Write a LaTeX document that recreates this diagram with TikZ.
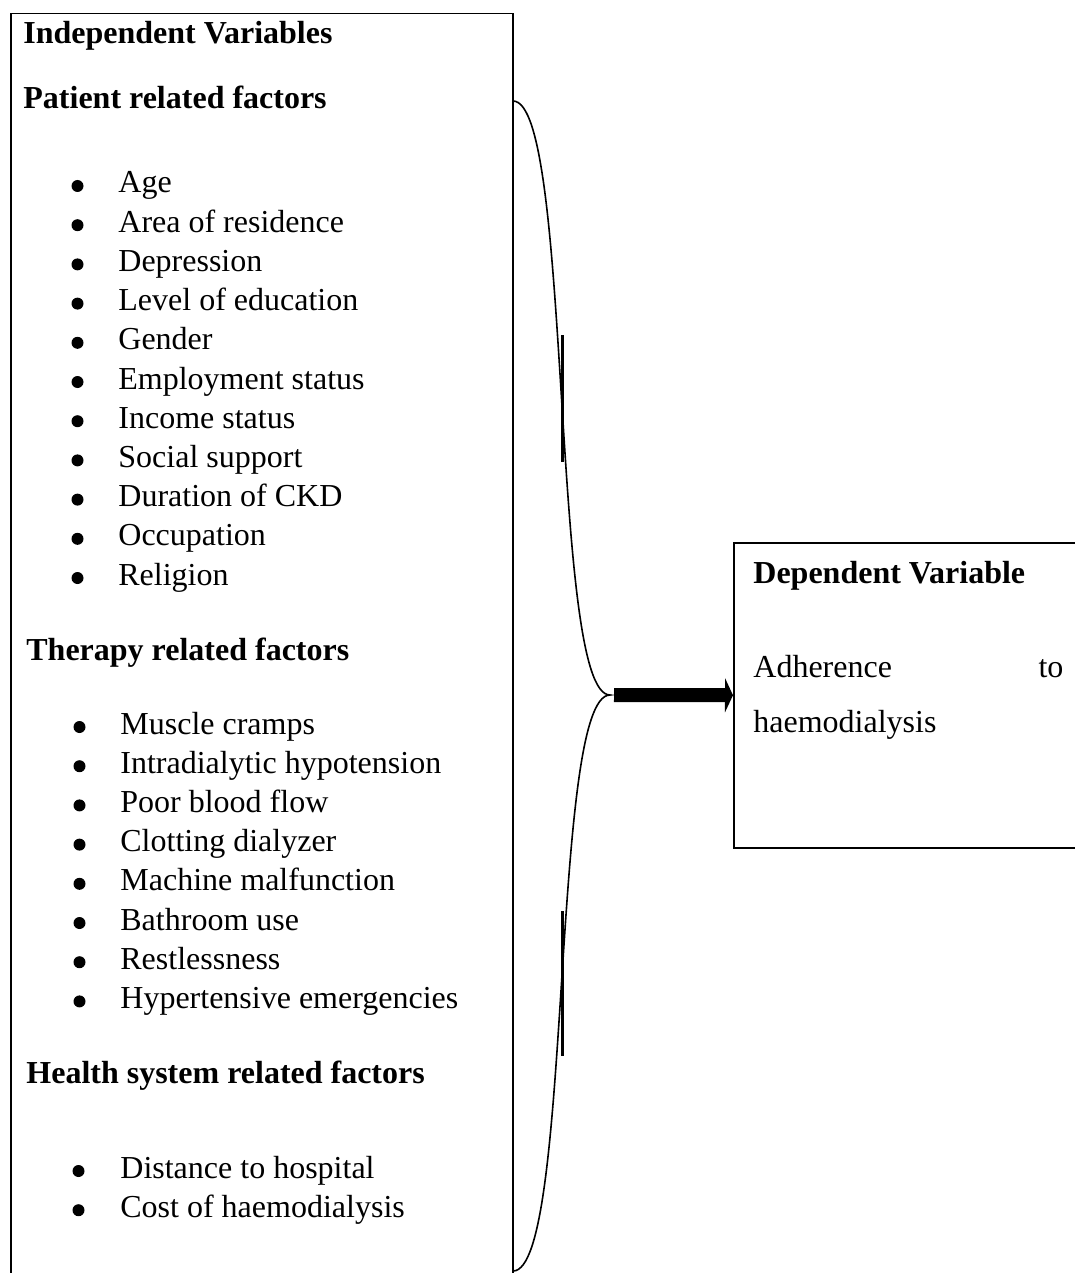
\documentclass[tikz,border=0pt]{standalone}
\usepackage{fontspec}
\setmainfont{Liberation Serif}
\usetikzlibrary{arrows.meta}

\tikzset{
  box/.style={draw, line width=0.75pt, inner sep=0pt},
  txt/.style={inner sep=0pt, anchor=base west, font=\fontsize{16}{19.6}\selectfont},
  head/.style={txt, font=\fontsize{16}{19.6}\selectfont\bfseries},
  bul/.style={circle, fill, inner sep=0pt, minimum size=6pt},
  brace/.style={line width=0.8pt},
  braceseg/.style={line width=1.5pt},
  fatarrow/.style={line width=7pt, -{Triangle[length=4pt,width=17pt]}}
}

\begin{document}
\begin{tikzpicture}[x=0.5pt, y=-0.5pt]

  \useasboundingbox (0,0) rectangle (1075,1273);
  \clip (0,0) rectangle (1075,1273);

  % Define boxes
  \node[box, anchor=north west, minimum width=251pt, minimum height=700pt] (indep) at (10,13) {};
  \node[box, anchor=north west, minimum width=200pt, minimum height=152.5pt] (dep) at (733,542) {};

  % Headings
  \node[head] (indtitle) at (23,44) {Independent Variables};
  \node[head] (pathead) at (23,109) {Patient related factors};
  \node[head] (thehead) at (26,660) {Therapy related factors};
  \node[head] (hsyshead) at (26,1083) {Health system related factors};
  \node[head] (deptitle) at (753,583) {Dependent Variable};

  % Factor lists
  \foreach \lbl [count=\i] in {Age, Area of residence, Depression, Level of education,
      Gender, Employment status, Income status, Social support, Duration of CKD,
      Occupation, Religion} {
    \node[bul] (patb-\i) at (77.5,{186+39.2*(\i-1)}) {};
    \node[txt] (pat-\i) at (118,{193+39.2*(\i-1)}) {\lbl};
  }
  \foreach \lbl [count=\i] in {Muscle cramps, Intradialytic hypotension, Poor blood flow,
      Clotting dialyzer, Machine malfunction, Bathroom use, Restlessness,
      Hypertensive emergencies} {
    \node[bul] (theb-\i) at (79.5,{727+39.2*(\i-1)}) {};
    \node[txt] (the-\i) at (120,{734+39.2*(\i-1)}) {\lbl};
  }
  \foreach \lbl [count=\i] in {Distance to hospital, Cost of haemodialysis} {
    \node[bul] (hsysb-\i) at (78.5,{1171+39.2*(\i-1)}) {};
    \node[txt] (hsys-\i) at (120,{1178+39.2*(\i-1)}) {\lbl};
  }

  % Outcome text
  \node[txt] (adh) at (753,677) {\makebox[155pt][l]{Adherence\hfill to}};
  \node[txt] (haem) at (753,732) {haemodialysis};

  % Brace
  \coordinate (btop) at (513,101);
  \coordinate (btip) at (610,695);
  \coordinate (bbot) at (513,1271);
  \draw[brace] (btop) .. controls +(60,0) and +(-60,0) .. (btip)
                      .. controls +(-60,0) and +(60,0) .. (bbot);
  \draw[braceseg] (562,335) -- (562,462);
  \draw[braceseg] (562,911) -- (562,1056);

  % Connect the brace to the outcome
  \draw[fatarrow] ([xshift=2pt]btip) -- (dep.west);

\end{tikzpicture}
\end{document}
